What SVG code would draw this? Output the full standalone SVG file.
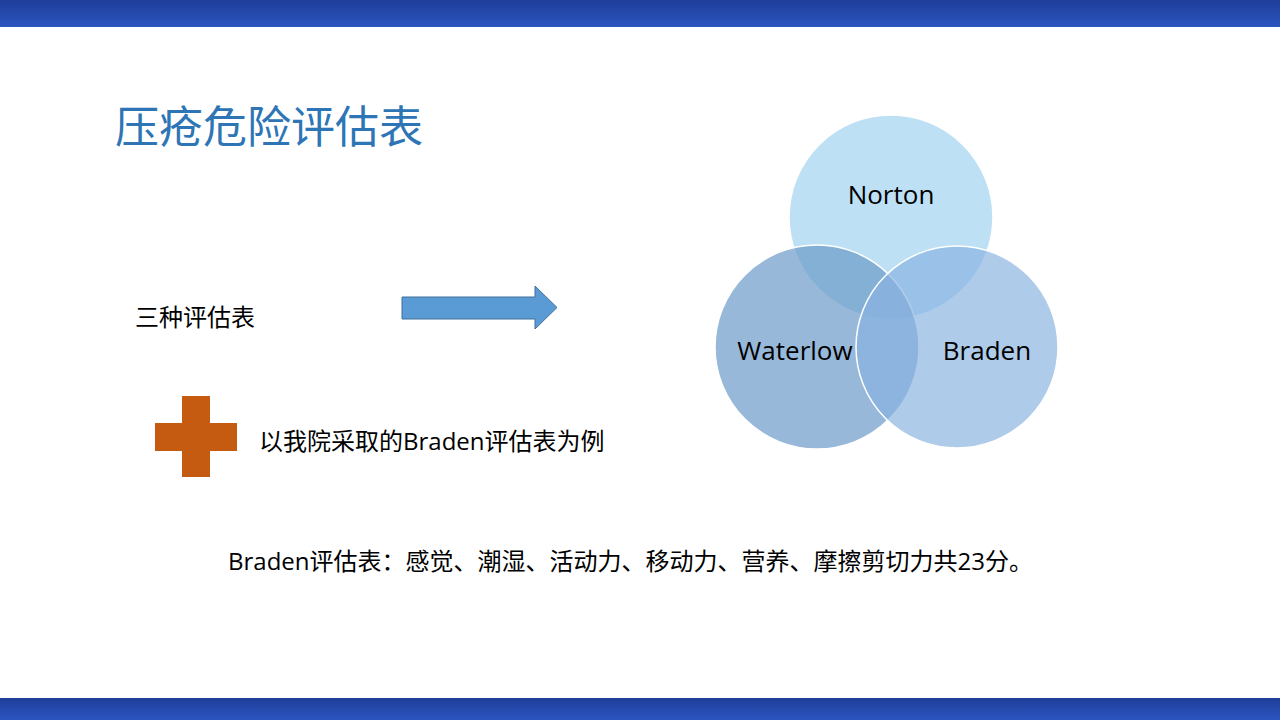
<svg xmlns="http://www.w3.org/2000/svg" width="1280" height="720" viewBox="0 0 1280 720">
<defs>
<linearGradient id="bar" x1="0" y1="0" x2="0" y2="1"><stop offset="0" stop-color="#1f3d99"/><stop offset="1" stop-color="#2b55c0"/></linearGradient>
<style>
text{font-family:"Open Sans","Noto Sans CJK SC",sans-serif;fill:#000}
.c{stroke:#fff;stroke-width:1.5}
</style>
</defs>
<rect width="1280" height="720" fill="#fff"/>
<rect x="0" y="0" width="1280" height="27" fill="url(#bar)"/>
<rect x="0" y="698" width="1280" height="22" fill="url(#bar)"/>
<text x="115" y="143" font-size="44" style="fill:#2e75b6">压疮危险评估表</text>
<text x="135" y="326" font-size="24">三种评估表</text>
<g id="arrow"><polygon points="402,297 535,297 535,286 557,307.5 535,329 535,319 402,319" fill="#5b9bd5" stroke="#41719c" stroke-width="1"/></g>
<g id="cross"><path d="M182,396H210V423H237V451H210V477H182V451H155V423H182Z" fill="#c55a11"/></g>
<text x="259" y="450" font-size="24">以我院采取的Braden评估表为例</text>
<text x="228" y="570" font-size="24">Braden评估表：感觉、潮湿、活动力、移动力、营养、摩擦剪切力共23分。</text>
<g id="venn">
<g id="norton"><circle class="c" cx="891" cy="217" r="102" fill="#bde0f5"/></g>
<g id="waterlow"><circle class="c" cx="817" cy="347" r="102" fill="#6f9ccb" fill-opacity="0.72"/></g>
<g id="braden"><circle class="c" cx="957" cy="347" r="101" fill="#89b3e0" fill-opacity="0.68"/></g>
<text x="891" y="204" font-size="26" text-anchor="middle">Norton</text>
<text x="795" y="360" font-size="26" text-anchor="middle">Waterlow</text>
<text x="987" y="360" font-size="26" text-anchor="middle">Braden</text>
</g>
</svg>
